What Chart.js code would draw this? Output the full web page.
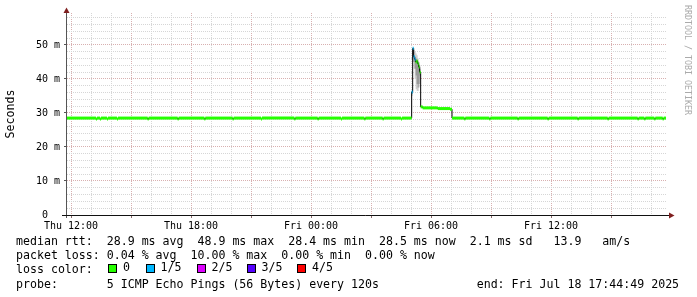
<!DOCTYPE html>
<html>
<head>
<meta charset="utf-8">
<script src="https://cdn.jsdelivr.net/npm/chart.js@4.4.1/dist/chart.umd.min.js"></script>
<style>
  body { margin: 0; background: #fff; }
  #wrap { position: relative; width: 697px; height: 297px; overflow: hidden; background: #fff; }
  #chart { position: absolute; left: 0; top: 0; }
  .mono { font-family: 'DejaVu Sans Mono', monospace; }
  #legend { position: absolute; left: 16px; top: 233.9px; font-size: 11.6px; line-height: 14.2px; white-space: pre; color: #000; }
  .sw { position: absolute; top: 264px; width: 7px; height: 7px; border: 1px solid #000; }
  .swl { position: absolute; top: 259.7px; font-size: 11.6px; line-height: 14.2px; color: #000; }
  #credit { position: absolute; left: 683px; top: 5px; writing-mode: vertical-rl; font-size: 8.3px; line-height: 10px; color: #aaa; white-space: pre; }
</style>
</head>
<body>
<div id="wrap">
  <canvas id="chart" width="697" height="297"></canvas>
  <div id="legend" class="mono">median rtt:  28.9 ms avg  48.9 ms max  28.4 ms min  28.5 ms now  2.1 ms sd   13.9   am/s
packet loss: 0.04 % avg  10.00 % max  0.00 % min  0.00 % now
loss color:
probe:       5 ICMP Echo Pings (56 Bytes) every 120s              end: Fri Jul 18 17:44:49 2025</div>
  <div id="swatches"></div>
  <div id="credit" class="mono">RRDTOOL / TOBI OETIKER</div>
</div>
<script>
// time axis: minutes since Thu 00:00, window Thu 11:48 .. Fri 17:48
const xMin = 708;
const xMax = 2508;
const xTickValues = [720, 1080, 1440, 1800, 2160];
const xTickLabels = ['Thu 12:00', 'Thu 18:00', 'Fri 00:00', 'Fri 06:00', 'Fri 12:00'];

const yMax = 59.4;
const yTickValues = [0, 10, 20, 30, 40, 50];
const yTickLabels = ['0  ', '10 m', '20 m', '30 m', '40 m', '50 m'];

// median rtt (ms), step start times, and lost pings out of 5
const medianTime = [708, 795, 798, 807, 810, 828, 831, 858, 861, 950, 953, 1040, 1043, 1120, 1123,
  1205, 1208, 1290, 1293, 1390, 1393, 1460, 1463, 1530, 1533, 1600, 1603, 1655, 1658, 1710, 1713,
  1742, 1745, 1748, 1751, 1754, 1757, 1760, 1763, 1766, 1769, 1775, 1820, 1857,
  1863, 1900, 1903, 1975, 1978, 2060, 2063, 2150, 2153, 2240, 2243, 2330, 2333, 2420, 2423,
  2440, 2443, 2470, 2473, 2495, 2498, 2505];
const medianValue = [28.5, 28.2, 28.5, 28.2, 28.5, 28.2, 28.5, 28.2, 28.5, 28.2, 28.5, 28.2, 28.5, 28.2, 28.5,
  28.2, 28.5, 28.2, 28.5, 28.2, 28.5, 28.2, 28.5, 28.2, 28.5, 28.2, 28.5, 28.2, 28.5, 28.2, 28.5,
  36.2, 49.0, 46.5, 45.8, 45.0, 45.3, 44.5, 43.5, 42.0, 31.8, 31.5, 31.3, 31.1,
  28.5, 28.2, 28.5, 28.2, 28.5, 28.2, 28.5, 28.2, 28.5, 28.2, 28.5, 28.2, 28.5, 28.2, 28.5,
  28.2, 28.5, 28.2, 28.5, 28.2, 28.5, 28.5];
const medianLoss = [0, 0, 0, 0, 0, 0, 0, 0, 0, 0, 0, 0, 0, 0, 0,
  0, 0, 0, 0, 0, 0, 0, 0, 0, 0, 0, 0, 0, 0, 0, 0,
  1, 1, 1, 1, 0, 0, 0, 0, 0, 0, 0, 0, 0,
  0, 0, 0, 0, 0, 0, 0, 0, 0, 0, 0, 0, 0, 0, 0,
  0, 0, 0, 0, 0, 0, 0];

// smoke (spread of the 5 pings) around the spike
const smokeTime = [1742, 1745, 1748, 1751, 1754, 1757, 1760, 1763, 1766, 1769];
const smokeOuterMax = [37.0, 49.3, 48.5, 48.0, 47.5, 47.0, 46.0, 45.0, 44.0, 44.0];
const smokeOuterMin = [35.0, 45.0, 43.0, 40.0, 37.0, 36.5, 36.5, 37.5, 40.0, 40.0];
const smokeInnerMax = [36.6, 48.0, 47.0, 46.5, 46.0, 45.5, 45.0, 44.0, 43.0, 43.0];
const smokeInnerMin = [35.6, 46.0, 45.0, 43.0, 41.0, 38.5, 37.5, 38.5, 41.0, 41.0];

const lossNames = ['0', '1/5', '2/5', '3/5', '4/5'];
const lossColors = ['#26ff00', '#00b8ff', '#dd00ff', '#5500ff', '#ff0000'];

const MONO = 'DejaVu Sans Mono';
const GRID = '#d6d6d6';
const MGRID = '#d8b0b0';

// legend swatches
const swatchX = [108, 146, 197, 247, 297];
const swatchLabelX = [123, 160.5, 211.5, 261.5, 312];
const swHost = document.getElementById('swatches');
lossNames.forEach((name, i) => {
  const box = document.createElement('div');
  box.className = 'sw';
  box.style.left = swatchX[i] + 'px';
  box.style.background = lossColors[i];
  swHost.appendChild(box);
  const lab = document.createElement('div');
  lab.className = 'swl mono';
  lab.style.left = swatchLabelX[i] + 'px';
  lab.textContent = name;
  swHost.appendChild(lab);
});

function pts(xs, ys) {
  return xs.map((x, i) => ({ x: x, y: ys[i] }));
}

// loss-coloured median as separate horizontal pieces
const lossSegs = [];
const segLoss = [];
for (let i = 0; i < medianTime.length - 1; i++) {
  lossSegs.push({ x: medianTime[i], y: medianValue[i] }, { x: medianTime[i + 1], y: medianValue[i] }, { x: medianTime[i + 1], y: null });
  segLoss.push(medianLoss[i], medianLoss[i], medianLoss[i]);
}

const xGrid = [];
for (let m = 720; m < xMax; m += 60) xGrid.push(m);
const yGrid = [];
for (let v = 0; v < yMax; v += 2) yGrid.push(v);

const rrdAxes = {
  id: 'rrdAxes',
  afterDraw(chart) {
    const { ctx, chartArea: a } = chart;
    ctx.save();
    ctx.lineWidth = 1;
    ctx.strokeStyle = '#555';
    ctx.beginPath();
    ctx.moveTo(a.left - 0.5, a.bottom + 3);
    ctx.lineTo(a.left - 0.5, a.top - 1);
    ctx.stroke();
    ctx.strokeStyle = '#111';
    ctx.beginPath();
    ctx.moveTo(a.left - 5, a.bottom + 0.5);
    ctx.lineTo(a.right + 2, a.bottom + 0.5);
    ctx.stroke();
    ctx.fillStyle = '#7f1f1f';
    ctx.beginPath();
    ctx.moveTo(a.left - 0.5, a.top - 5.5);
    ctx.lineTo(a.left - 3.5, a.top);
    ctx.lineTo(a.left + 2.5, a.top);
    ctx.closePath();
    ctx.fill();
    ctx.beginPath();
    ctx.moveTo(a.right + 7.5, a.bottom + 0.5);
    ctx.lineTo(a.right + 2, a.bottom - 2.5);
    ctx.lineTo(a.right + 2, a.bottom + 3.5);
    ctx.closePath();
    ctx.fill();
    ctx.restore();
  }
};

new Chart(document.getElementById('chart'), {
  type: 'line',
  data: {
    datasets: [
      {
        label: 'median loss',
        data: lossSegs,
        borderWidth: 3,
        borderCapStyle: 'butt',
        pointRadius: 0,
        spanGaps: false,
        fill: false,
        segment: { borderColor: c => lossColors[segLoss[c.p0DataIndex]] }
      },
      {
        label: 'median',
        data: pts(medianTime, medianValue),
        stepped: true,
        borderColor: '#000',
        borderWidth: 1,
        pointRadius: 0,
        fill: false
      },
      {
        label: 'smoke inner max',
        data: pts(smokeTime, smokeInnerMax),
        stepped: true,
        borderWidth: 0,
        borderColor: 'rgba(0,0,0,0)',
        backgroundColor: '#9a9a9a',
        pointRadius: 0,
        fill: '+1'
      },
      {
        label: 'smoke inner min',
        data: pts(smokeTime, smokeInnerMin),
        stepped: true,
        borderWidth: 0,
        borderColor: 'rgba(0,0,0,0)',
        pointRadius: 0,
        fill: false
      },
      {
        label: 'smoke outer max',
        data: pts(smokeTime, smokeOuterMax),
        stepped: true,
        borderWidth: 0,
        borderColor: 'rgba(0,0,0,0)',
        backgroundColor: '#cdcdcd',
        pointRadius: 0,
        fill: '+1'
      },
      {
        label: 'smoke outer min',
        data: pts(smokeTime, smokeOuterMin),
        stepped: true,
        borderWidth: 0,
        borderColor: 'rgba(0,0,0,0)',
        pointRadius: 0,
        fill: false
      }
    ]
  },
  options: {
    responsive: false,
    animation: false,
    events: [],
    layout: { padding: { top: 13, right: 30, left: 0, bottom: 0 } },
    plugins: { legend: { display: false }, tooltip: { enabled: false } },
    scales: {
      x: {
        type: 'linear',
        min: xMin,
        max: xMax,
        afterBuildTicks: s => { s.ticks = xGrid.map(v => ({ value: v })); },
        afterFit: s => { s.height = 82; },
        grid: {
          color: c => ((c.tick.value - 720) % 180 === 0 ? MGRID : GRID),
          lineWidth: 1,
          tickLength: 3,
          tickColor: c => ((c.tick.value - 720) % 180 === 0 ? '#8a6a6a' : 'rgba(0,0,0,0)')
        },
        border: { display: false, dash: [1, 1] },
        ticks: {
          autoSkip: false,
          maxRotation: 0,
          padding: 2,
          color: '#000',
          font: { family: MONO, size: 10 },
          callback: v => {
            const i = xTickValues.indexOf(v);
            return i < 0 ? '' : xTickLabels[i];
          }
        }
      },
      y: {
        min: 0,
        max: yMax,
        afterBuildTicks: s => { s.ticks = yGrid.map(v => ({ value: v })); },
        afterFit: s => { s.width = 67; },
        grid: {
          color: c => (c.tick.value % 10 === 0 ? MGRID : GRID),
          lineWidth: 1,
          tickLength: 3,
          tickColor: c => (c.tick.value % 10 === 0 ? '#555' : 'rgba(0,0,0,0)')
        },
        border: { display: false, dash: [1, 1] },
        ticks: {
          autoSkip: false,
          padding: 4,
          color: '#000',
          font: { family: MONO, size: 10 },
          callback: v => {
            const i = yTickValues.indexOf(v);
            return i < 0 ? '' : yTickLabels[i];
          }
        },
        title: {
          display: true,
          text: 'Seconds',
          color: '#000',
          font: { family: MONO, size: 11.6 },
          padding: { top: 4, bottom: 0 }
        }
      }
    }
  },
  plugins: [rrdAxes]
});
</script>
</body>
</html>
